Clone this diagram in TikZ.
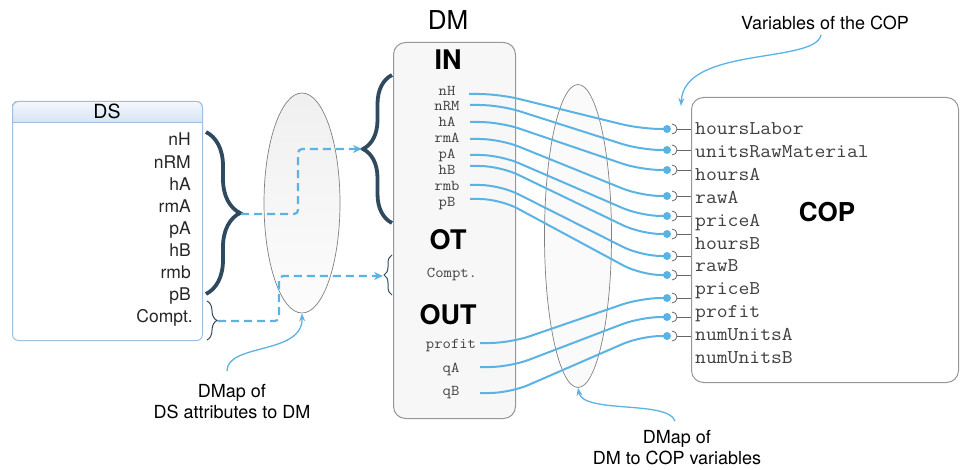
\documentclass[tikz,border=0pt]{standalone}
\usepackage{fontspec}
\usepackage{graphicx}
\setmainfont{TeX Gyre Heros}
\usetikzlibrary{arrows.meta,decorations.pathreplacing,shapes.geometric,calc}

\definecolor{wireblue}{RGB}{91,179,228}
\definecolor{bracecol}{RGB}{47,74,94}
\definecolor{dsedge}{RGB}{160,190,225}
\definecolor{dstop}{RGB}{244,248,253}
\definecolor{dsbot}{RGB}{214,227,243}
\definecolor{boxgray}{RGB}{150,150,150}
\definecolor{dmfill}{RGB}{247,247,247}

% typewriter labels are set slightly wide
\newcommand\widett[1]{\scalebox{1.08}[1]{#1}}

\begin{document}
\begin{tikzpicture}[x=1pt,y=-1pt,
  sanslbl/.style={inner sep=0pt, font=\fontsize{18}{21}\selectfont},
  dslbl/.style={inner sep=0pt, anchor=base east, font=\fontsize{17.5}{20}\selectfont, text=black!85},
  dmlbl/.style={inner sep=0pt, anchor=base, font=\ttfamily\fontsize{15}{17}\selectfont, text=black!75},
  coplbl/.style={inner sep=0pt, anchor=base west, font=\ttfamily\fontsize{19.5}{22}\selectfont, text=black!75},
  headlbl/.style={inner sep=0pt, anchor=base, font=\bfseries\fontsize{27}{30}\selectfont},
  mapoval/.style={ellipse, draw=black!50, line width=0.7pt, inner sep=0pt},
  wire/.style={wireblue, line width=2pt, rounded corners=20pt},
  dashlink/.style={wireblue, line width=2.2pt, dash pattern=on 8pt off 5pt, rounded corners=4pt,
    -{Stealth[length=9pt,width=8pt]}},
  callout/.style={wireblue, line width=1.3pt, -{Stealth[length=8pt,width=6pt]}},
  bigbrace/.style={bracecol, line width=3.8pt, decorate, decoration={brace, amplitude=#1}},
  smallbrace/.style={bracecol, line width=1pt, decorate, decoration={brace, amplitude=#1}},
  sockdot/.style={circle, fill=wireblue, inner sep=0pt, minimum size=8pt},
  socket/.style={black!60, line width=0.8pt}
]
\useasboundingbox (0,0) rectangle (960,470);

% ---------- DS table ----------
\begin{scope}
  \clip[rounded corners=6pt] (12,101) rectangle (202,340);
  \fill[top color=dstop, bottom color=dsbot] (12,101) rectangle (202,123);
\end{scope}
\node[draw=dsedge, line width=1pt, rounded corners=6pt, minimum width=190pt, minimum height=239pt,
      anchor=north west, inner sep=0pt] (ds) at (12,101) {};
\draw[dsedge, line width=1pt] (12,123) -- (202,123);
\node[inner sep=0pt, anchor=base, font=\fontsize{19.5}{22}\selectfont] (dstitle) at (107,119) {DS};

\node[dslbl] (dsnH)   at (191,146)   {nH};
\node[dslbl] (dsnRM)  at (191,168.1) {nRM};
\node[dslbl] (dshA)   at (191,190.2) {hA};
\node[dslbl] (dsrmA)  at (191,212.3) {rmA};
\node[dslbl] (dspA)   at (191,234.4) {pA};
\node[dslbl] (dshB)   at (191,256.5) {hB};
\node[dslbl] (dsrmb)  at (191,278.6) {rmb};
\node[dslbl] (dspB)   at (191,300.7) {pB};
\node[dslbl] (dsCompt) at (193,322.8) {Compt.};

% ---------- DM box ----------
\node[draw=boxgray, fill=dmfill, line width=1pt, rounded corners=12pt, minimum width=122pt,
      minimum height=376pt, anchor=north west, inner sep=0pt] (dm) at (393,42) {};
\node[inner sep=0pt, anchor=base, font=\fontsize{26}{30}\selectfont] (dmtitle) at (448,30) {DM};
\node[headlbl] (inhead)  at (448,70)  {IN};
\node[headlbl] (othead)  at (448,250) {OT};
\node[headlbl] (outhead) at (448,324) {OUT};

\node[dmlbl] (mnH)  at (447,96)  {\widett{nH}};
\node[dmlbl] (mnRM) at (447,111) {\widett{nRM}};
\node[dmlbl] (mhA)  at (447,127) {\widett{hA}};
\node[dmlbl] (mrmA) at (447,143) {\widett{rmA}};
\node[dmlbl] (mpA)  at (447,159) {\widett{pA}};
\node[dmlbl] (mhB)  at (447,175) {\widett{hB}};
\node[dmlbl] (mrmb) at (447,191) {\widett{rmb}};
\node[dmlbl] (mpB)  at (447,207) {\widett{pB}};
\node[dmlbl] (mCompt)  at (452,277) {\widett{Compt.}};
\node[dmlbl] (mprofit) at (451,348) {\widett{profit}};
\node[dmlbl] (mqA)     at (451,372) {\widett{qA}};
\node[dmlbl] (mqB)     at (451,395) {\widett{qB}};

% ---------- COP box ----------
\node[draw=boxgray, fill=white, line width=1pt, rounded corners=12pt, minimum width=267pt,
      minimum height=285pt, anchor=north west, inner sep=0pt] (cop) at (691,97) {};
\node[inner sep=0pt, anchor=base, font=\bfseries\fontsize{26}{30}\selectfont] (coptitle) at (827,222) {COP};

\node[coplbl] (vhoursLabor) at (695,135)   {\widett{hoursLabor}};
\node[coplbl] (vunitsRaw)   at (695,157.8) {\widett{unitsRawMaterial}};
\node[coplbl] (vhoursA)     at (695,180.6) {\widett{hoursA}};
\node[coplbl] (vrawA)       at (695,203.4) {\widett{rawA}};
\node[coplbl] (vpriceA)     at (695,226.2) {\widett{priceA}};
\node[coplbl] (vhoursB)     at (695,249)   {\widett{hoursB}};
\node[coplbl] (vrawB)       at (695,271.8) {\widett{rawB}};
\node[coplbl] (vpriceB)     at (695,294.6) {\widett{priceB}};
\node[coplbl] (vprofit)     at (695,317.4) {\widett{profit}};
\node[coplbl] (vnumA)       at (695,340.2) {\widett{numUnitsA}};
\node[coplbl] (vnumB)       at (695,363)   {\widett{numUnitsB}};

% ---------- mapping ovals ----------
\node[mapoval, minimum width=76pt, minimum height=220pt, top color=black!6, bottom color=black!1] (m1) at (302,203) {};
\node[mapoval, minimum width=67pt, minimum height=303pt, fill=black!2] (m2) at (578,236) {};

% ---------- braces ----------
\draw[bigbrace=34pt] (206,132) -- (206,294);
\draw[smallbrace=10pt] (207,301) -- (207,340);
\draw[bigbrace=29pt] (392,223) -- (392,75);
\draw[smallbrace=8pt] (392,295) -- (392,255);

\coordinate (dsbr)  at (241,214);
\coordinate (csbr)  at (218,321);
\coordinate (inbr)  at (362,149);
\coordinate (otbr)  at (383,276);

% ---------- dashed DS -> DM links ----------
\draw[dashlink] (dsbr) -- (298,214) -- (298,149) -- (inbr);
\draw[dashlink] (csbr) -- (279,321) -- (279,276) -- (otbr);

% ---------- sockets on the COP ----------
\foreach \i/\y in {1/129,2/150,3/170,4/196,5/216,6/234,7/256,8/275,9/298,10/317,11/336} {
  \draw[socket] (672,{\y+5}) arc[start angle=90, end angle=-90, radius=5];
  \draw[socket] (677,\y) -- (691,\y);
  \node[sockdot] (d\i) at (667,\y) {};
}

% ---------- wires DM -> COP ----------
\coordinate (s1) at (469,94);
\coordinate (s2) at (470,105);
\coordinate (s3) at (470,122);
\coordinate (s4) at (470,139);
\coordinate (s5) at (470,155);
\coordinate (s6) at (470,166);
\coordinate (s7) at (470,185);
\coordinate (s8) at (470,199);
\coordinate (s9) at (480,343);
\coordinate (s10) at (480,367);
\coordinate (s11) at (480,393);
\foreach \i in {1,...,11} {
  \draw[wire] (s\i) -- ++(30,0) -- ($(d\i)+(-26,0)$) -- (d\i.center);
}

% ---------- callouts ----------
\node[sanslbl, align=center, anchor=north] (t1) at (232,384) {DMap of\\DS attributes to DM};
\node[sanslbl, align=center, anchor=north] (t2) at (677,430) {DMap of\\DM to COP variables};
\node[sanslbl, anchor=base] (t3) at (825,30) {Variables of the COP};

\coordinate (c1) at (227,371);
\coordinate (c2) at (675,421);
\coordinate (c3) at (821,35);
\coordinate (c3e) at (681,106);
\draw[callout] (c1) .. controls (227,343) and (303,355) .. (m1.south);
\draw[callout] (c2) .. controls (668,400) and (583,414) .. (m2.south);
\draw[callout] (c3) .. controls (815,64) and (684,46) .. (c3e);

\end{tikzpicture}
\end{document}
